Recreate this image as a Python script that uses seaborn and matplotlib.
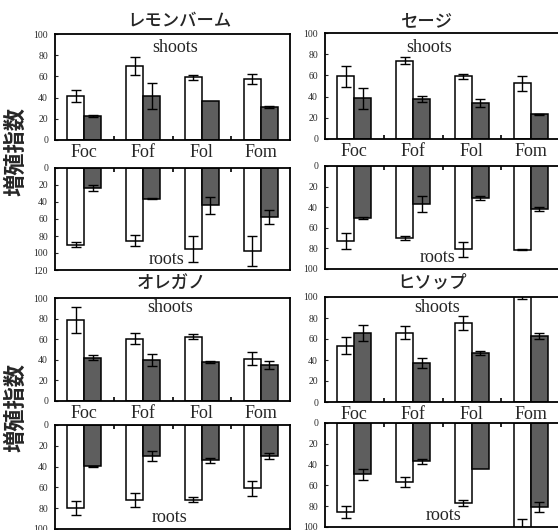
import matplotlib
matplotlib.use("Agg")
import matplotlib.pyplot as plt
import numpy as np
import pandas as pd
import seaborn as sns

sns.set_style("white")
plt.rcParams["font.family"] = ["Liberation Serif", "Noto Sans CJK JP", "DejaVu Sans"]

# ---- data -------------------------------------------------------------
categories = ["Foc", "Fof", "Fol", "Fom"]
groups = ["A", "B"]
herbs = ["レモンバーム", "セージ", "オレガノ", "ヒソップ"]

lemon_shoot_a = [41.5, 70.0, 59.0, 57.5]
lemon_shoot_a_err = [6.0, 8.5, 2.0, 5.0]
lemon_shoot_b = [22.5, 41.5, 37.0, 31.5]
lemon_shoot_b_err = [1.0, 12.5, 0.0, 1.0]
lemon_root_a = [90.0, 85.5, 95.0, 98.0]
lemon_root_a_err = [2.5, 6.5, 15.0, 17.5]
lemon_root_b = [23.0, 36.0, 44.0, 57.5]
lemon_root_b_err = [3.5, 1.0, 10.0, 8.0]

sage_shoot_a = [59.0, 74.0, 59.0, 52.5]
sage_shoot_a_err = [10.0, 3.0, 2.5, 7.0]
sage_shoot_b = [38.5, 38.0, 34.0, 23.5]
sage_shoot_b_err = [10.0, 3.0, 4.0, 0.5]
sage_root_a = [73.0, 70.0, 81.0, 81.5]
sage_root_a_err = [7.5, 2.0, 7.0, 0.5]
sage_root_b = [50.5, 37.0, 31.0, 41.5]
sage_root_b_err = [1.0, 8.0, 2.0, 2.0]

oregano_shoot_a = [79.0, 60.5, 62.5, 41.0]
oregano_shoot_a_err = [12.5, 5.5, 2.5, 6.5]
oregano_shoot_b = [42.0, 39.5, 37.5, 35.0]
oregano_shoot_b_err = [2.5, 6.0, 1.0, 4.0]
oregano_root_a = [80.0, 72.0, 72.0, 61.0]
oregano_root_a_err = [7.0, 7.0, 2.5, 7.0]
oregano_root_b = [39.5, 30.0, 34.0, 29.5]
oregano_root_b_err = [0.5, 5.0, 2.5, 3.0]

hyssop_shoot_a = [53.5, 66.0, 75.5, 107.0]
hyssop_shoot_a_err = [8.0, 6.0, 6.5, 9.0]
hyssop_shoot_b = [66.0, 37.0, 46.5, 63.0]
hyssop_shoot_b_err = [7.5, 4.5, 2.0, 3.0]
hyssop_root_a = [85.5, 56.5, 77.0, 105.0]
hyssop_root_a_err = [5.5, 5.0, 3.0, 13.0]
hyssop_root_b = [49.5, 37.0, 44.0, 81.0]
hyssop_root_b_err = [5.0, 2.0, 0.0, 5.0]

PALETTE = {"A": "white", "B": "#5e5e5e"}
W, H = 558, 530

fig = plt.figure(figsize=(W / 100, H / 100), dpi=100)


def px_axes(left, top, right, bottom):
    return fig.add_axes([left / W, 1 - bottom / H, (right - left) / W, (bottom - top) / H])


def draw_panel(ax, a, a_err, b, b_err, ymax, roots):
    df = pd.DataFrame({
        "cat": categories * 2,
        "grp": ["A"] * 4 + ["B"] * 4,
        "val": list(a) + list(b),
    })
    sns.barplot(data=df, x="cat", y="val", hue="grp", order=categories,
                hue_order=groups, palette=PALETTE, width=0.58, saturation=1,
                errorbar=None, edgecolor="black", linewidth=1.1,
                legend=False, ax=ax)
    for cont, errs in zip(ax.containers, (a_err, b_err)):
        for p, e in zip(cont.patches, errs):
            if e <= 0:
                continue
            ax.errorbar(p.get_x() + p.get_width() / 2, p.get_height(), yerr=e,
                        fmt="none", ecolor="black", elinewidth=1.0,
                        capsize=3.6, capthick=1.0, zorder=5)
    ax.set_xlim(-0.5, 3.5)
    ax.set_xlabel("")
    ax.set_ylabel("")
    ticks = np.arange(0, ymax + 1, 20)
    ax.set_yticks(ticks)
    ax.set_yticklabels([str(t) for t in ticks])
    if roots:
        ax.set_ylim(ymax, 0)
        ax.set_xticks([])
    else:
        ax.set_ylim(0, ymax)
        ax.set_xticks(range(4))
        ax.set_xticklabels(categories, fontsize=13, family="Liberation Serif")
        ax.tick_params(axis="x", which="major", length=0, pad=3)
    ax.set_xticks([0.5, 1.5, 2.5], minor=True)
    ax.tick_params(axis="x", which="minor", direction="in", length=3,
                   width=1.2, color="black", bottom=not roots, top=roots)
    ax.tick_params(axis="y", direction="in", length=2.5, width=0.8,
                   labelsize=7, labelcolor="#2a2a2a", pad=5, left=True)
    for s in ax.spines.values():
        s.set_visible(True)
        s.set_color("black")
        s.set_linewidth(1.3)


panels = [
    # (shoot axes px, root axes px, shoot data, root data, root axis max)
    ((55, 34, 290, 140), (55, 168, 290, 270),
     (lemon_shoot_a, lemon_shoot_a_err, lemon_shoot_b, lemon_shoot_b_err),
     (lemon_root_a, lemon_root_a_err, lemon_root_b, lemon_root_b_err), 120),
    ((325, 33, 560, 139), (325, 166, 560, 269),
     (sage_shoot_a, sage_shoot_a_err, sage_shoot_b, sage_shoot_b_err),
     (sage_root_a, sage_root_a_err, sage_root_b, sage_root_b_err), 100),
    ((55, 298, 290, 401), (55, 425, 290, 529),
     (oregano_shoot_a, oregano_shoot_a_err, oregano_shoot_b, oregano_shoot_b_err),
     (oregano_root_a, oregano_root_a_err, oregano_root_b, oregano_root_b_err), 100),
    ((325, 297, 560, 402), (325, 423, 560, 527),
     (hyssop_shoot_a, hyssop_shoot_a_err, hyssop_shoot_b, hyssop_shoot_b_err),
     (hyssop_root_a, hyssop_root_a_err, hyssop_root_b, hyssop_root_b_err), 100),
]

title_pos = [(179, 21), (426, 21), (171, 284), (432, 283)]
shoots_pos = [(175, 47), (429, 47), (170, 307), (437, 307)]
roots_pos = [(167, 260), (438, 257), (170, 517), (444, 516)]

for i, (sp, rp, sd, rd, rmax) in enumerate(panels):
    ax_s = px_axes(*sp)
    ax_r = px_axes(*rp)
    draw_panel(ax_s, *sd, 100, roots=False)
    draw_panel(ax_r, *rd, rmax, roots=True)
    tx, ty = title_pos[i]
    fig.text(tx / W, 1 - ty / H, herbs[i], ha="center", va="center",
             fontsize=12.5, fontweight="medium", family=["Noto Sans CJK JP"])
    sx, sy = shoots_pos[i]
    fig.text(sx / W, 1 - sy / H, "shoots", ha="center", va="center",
             fontsize=13, family="Liberation Serif")
    rx, ry = roots_pos[i]
    fig.text(rx / W, 1 - ry / H, "roots", ha="center", va="center",
             fontsize=13, family="Liberation Serif")

for y in (152, 408):
    fig.text(16 / W, 1 - y / H, "増殖指数", rotation=90, ha="center",
             va="center", fontsize=16, fontweight="bold",
             family=["Noto Sans CJK JP"])

fig.savefig("out.png", dpi=100)
